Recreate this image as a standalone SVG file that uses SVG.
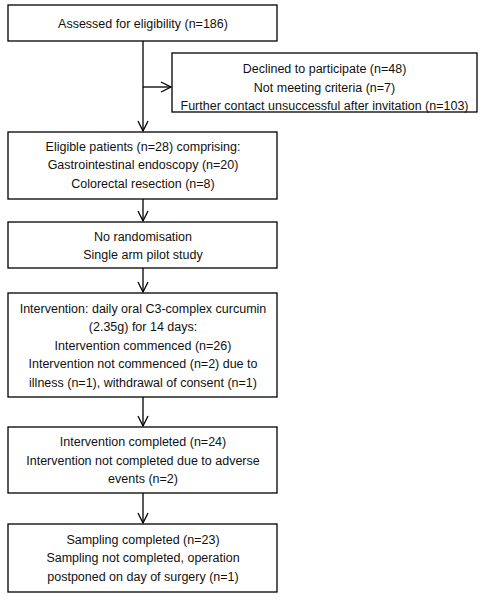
<svg xmlns="http://www.w3.org/2000/svg" width="485" height="601" viewBox="0 0 485 601">
<defs>
<marker id="arr" markerWidth="12" markerHeight="12" viewBox="0 0 12 12" refX="11" refY="6" orient="auto" markerUnits="userSpaceOnUse">
<path d="M1,1 L11,6 L1,11" fill="none" stroke="#000" stroke-width="1.3"/>
</marker>
<style>
.box{fill:#fff;stroke:#000;stroke-width:1.3}
.t{font-family:"Liberation Sans",Arial,sans-serif;font-size:12.5px;fill:#111;text-anchor:middle}
.c{stroke:#000;stroke-width:1.3;fill:none}
</style>
</defs>
<rect width="485" height="601" fill="#fff"/>
<g id="connectors">
<line class="c" x1="143" y1="41" x2="143" y2="131" marker-end="url(#arr)"/>
<line class="c" x1="143" y1="87" x2="171" y2="87" marker-end="url(#arr)"/>
<line class="c" x1="143" y1="199" x2="143" y2="221" marker-end="url(#arr)"/>
<line class="c" x1="143" y1="268" x2="143" y2="292" marker-end="url(#arr)"/>
<line class="c" x1="143" y1="397" x2="143" y2="426" marker-end="url(#arr)"/>
<line class="c" x1="143" y1="493" x2="143" y2="523" marker-end="url(#arr)"/>
</g>
<g id="n1">
<rect class="box" x="8" y="5" width="269" height="36"/>
<text class="t" x="143" y="27.5">Assessed for eligibility (n=186)</text>
</g>
<g id="n2">
<rect class="box" x="172" y="53" width="305" height="59"/>
<text class="t" x="324.5" y="72.5">Declined to participate (n=48)</text>
<text class="t" x="324.5" y="91.5">Not meeting criteria (n=7)</text>
<text class="t" x="324.5" y="110" dy="-0.5">Further contact unsuccessful after invitation (n=103)</text>
</g>
<g id="n3">
<rect class="box" x="8" y="132" width="269" height="67"/>
<text class="t" x="143" y="150.5">Eligible patients (n=28) comprising:</text>
<text class="t" x="143" y="169">Gastrointestinal endoscopy (n=20)</text>
<text class="t" x="143" y="187.5">Colorectal resection (n=8)</text>
</g>
<g id="n4">
<rect class="box" x="8" y="222" width="269" height="46"/>
<text class="t" x="143" y="240.5">No randomisation</text>
<text class="t" x="143" y="259">Single arm pilot study</text>
</g>
<g id="n5">
<rect class="box" x="8" y="293" width="269" height="104"/>
<text class="t" x="143" y="312.5">Intervention: daily oral C3-complex curcumin</text>
<text class="t" x="143" y="331">(2.35g) for 14 days:</text>
<text class="t" x="143" y="349.5">Intervention commenced (n=26)</text>
<text class="t" x="143" y="368">Intervention not commenced (n=2) due to</text>
<text class="t" x="143" y="386.5">illness (n=1), withdrawal of consent (n=1)</text>
</g>
<g id="n6">
<rect class="box" x="8" y="427" width="269" height="66"/>
<text class="t" x="143" y="446">Intervention completed (n=24)</text>
<text class="t" x="143" y="464.5">Intervention not completed due to adverse</text>
<text class="t" x="143" y="483">events (n=2)</text>
</g>
<g id="n7">
<rect class="box" x="8" y="524" width="269" height="68"/>
<text class="t" x="143" y="543.5">Sampling completed (n=23)</text>
<text class="t" x="143" y="562">Sampling not completed, operation</text>
<text class="t" x="143" y="580.5">postponed on day of surgery (n=1)</text>
</g>
</svg>
